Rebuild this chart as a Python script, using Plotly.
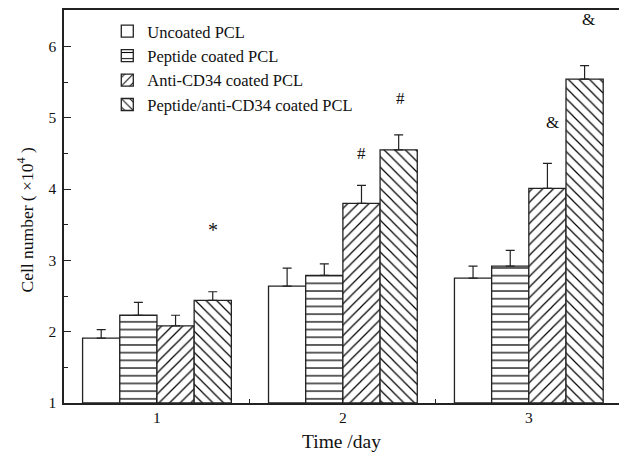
import plotly.graph_objects as go

days = [1, 2, 3]
day_labels = ["1", "2", "3"]
series_names = ["Uncoated PCL", "Peptide coated PCL", "Anti-CD34 coated PCL", "Peptide/anti-CD34 coated PCL"]
uncoated = [1.91, 2.64, 2.75]
uncoated_err = [0.12, 0.25, 0.17]
peptide = [2.23, 2.79, 2.92]
peptide_err = [0.18, 0.16, 0.22]
anti_cd34 = [2.08, 3.80, 4.01]
anti_cd34_err = [0.15, 0.25, 0.35]
combined = [2.44, 4.55, 5.54]
combined_err = [0.12, 0.21, 0.19]
patterns = ["", "-", "/", "\\"]
pattern_sizes = [8, 7.7, 7.5, 7.5]

y_ticks = [1, 2, 3, 4, 5, 6]

# significance marks
marks_text = ["*", "#", "#", "&", "&"]
marks_x = [1.3, 2.1, 2.31, 3.13, 3.32]
marks_y = [3.43, 4.50, 5.27, 4.93, 6.38]

FONT = "Liberation Serif, Times New Roman, serif"
INK = "#222222"

fig = go.Figure()
all_vals = [uncoated, peptide, anti_cd34, combined]
all_errs = [uncoated_err, peptide_err, anti_cd34_err, combined_err]
for i, (name, vals, errs, pat, psz) in enumerate(zip(series_names, all_vals, all_errs, patterns, pattern_sizes)):
    fig.add_trace(go.Bar(
        x=days, y=[v - 1 for v in vals], base=1, name=name,
        legendgroup=f"g{i}",
        marker=dict(color="white",
                    line=dict(color=INK, width=1.3),
                    pattern=dict(shape=pat, fgcolor="#000000", bgcolor="white", size=psz,
                                 solidity=0.16, fgopacity=1)),
        error_y=dict(type="data", symmetric=False, array=errs, arrayminus=[0]*len(errs),
                     color=INK, thickness=1.2, width=4.5),
    ))

for t, xx, yy in zip(marks_text, marks_x, marks_y):
    fig.add_annotation(x=xx, y=yy, text=t, showarrow=False,
                       font=dict(family=FONT, size=17 if t != "*" else 20, color="#111"))

# axis titles as annotations (fixed positions)
fig.add_annotation(xref="paper", yref="paper", x=0, y=0.5, xshift=-39, yshift=-14,
                   text="Cell number ( \u00d710<sup>4</sup> )", textangle=-90, showarrow=False,
                   xanchor="center", yanchor="middle",
                   font=dict(family=FONT, size=17.5, color="#111"))
fig.add_annotation(xref="paper", yref="paper", x=0.5, y=0, yshift=-38,
                   text="Time /day", showarrow=False, xanchor="center", yanchor="middle",
                   font=dict(family=FONT, size=19.5, color="#111"))

fig.update_layout(
    width=619, height=461,
    margin=dict(l=64, r=0, t=10, b=58, autoexpand=False),
    plot_bgcolor="white", paper_bgcolor="white",
    barmode="group", bargap=0.2, bargroupgap=0,
    font=dict(family=FONT, size=16, color="#111"),
    legend=dict(x=0.078, y=0.99, xanchor="left", yanchor="top",
                bgcolor="rgba(0,0,0,0)", font=dict(family=FONT, size=16.5, color="#111"),
                tracegroupgap=0, traceorder="normal"),
    showlegend=True,
)
fig.update_xaxes(
    range=[0.5, 3.485], tickvals=days, ticktext=day_labels,
    showline=True, linecolor=INK, linewidth=1.5, mirror=True,
    ticks="inside", ticklen=7, tickcolor=INK,
    minor=dict(ticks="inside", ticklen=4, dtick=0.5, tick0=0.5, tickcolor=INK),
    showgrid=False, zeroline=False, automargin=False,
    tickfont=dict(family=FONT, size=15.5),
)
fig.update_yaxes(
    range=[1, 6.51], tickvals=y_ticks,
    showline=True, linecolor=INK, linewidth=1.5, mirror=False,
    ticks="inside", ticklen=7, tickcolor=INK,
    minor=dict(ticks="inside", ticklen=4, dtick=0.5, tick0=0, tickcolor=INK),
    showgrid=False, zeroline=False, automargin=False, ticklabelstandoff=3,
    tickfont=dict(family=FONT, size=15.5),
)

fig.write_html("out.html", config={"displayModeBar": False},
               post_script="document.body.style.margin='0';")
